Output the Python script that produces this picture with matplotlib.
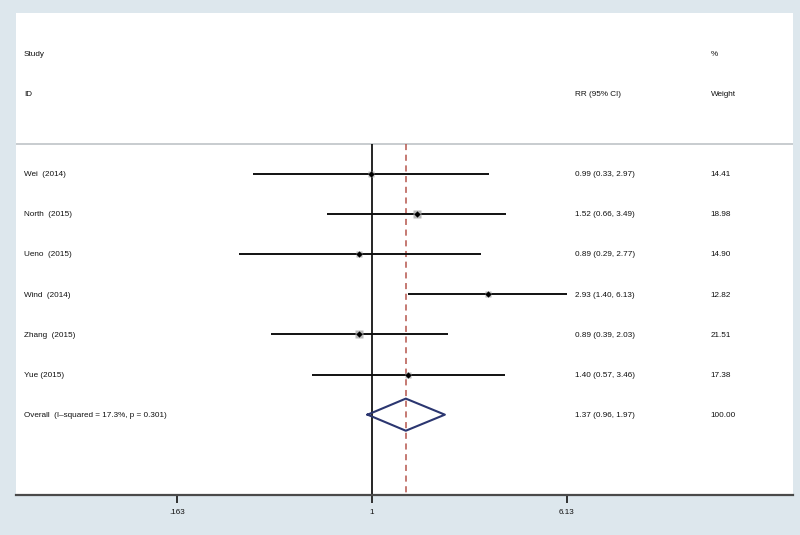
import matplotlib
matplotlib.use("Agg")

import matplotlib.pyplot as plt
from matplotlib import font_manager
import numpy as np


studies = ["Wei  (2014)", "North  (2015)", "Ueno  (2015)", "Wind  (2014)", "Zhang  (2015)", "Yue (2015)"]
rr = [0.99, 1.52, 0.89, 2.93, 0.89, 1.40]
ci_low = [0.33, 0.66, 0.29, 1.40, 0.39, 0.57]
ci_high = [2.97, 3.49, 2.77, 6.13, 2.03, 3.46]
weights = [14.41, 18.98, 14.90, 12.82, 21.51, 17.38]

overall_label = "Overall  (I\u2013squared = 17.3%, p = 0.301)"
overall_rr = 1.37
overall_low = 0.96
overall_high = 1.97
overall_weight = 100.00

tick_values = [0.163, 1, 6.13]
tick_labels = [".163", "1", "6.13"]

BG = "#dde7ed"
TXT = "#111111"

# prefer a narrow face if there is one
names = {f.name for f in font_manager.fontManager.ttflist}
if "Liberation Sans Narrow" in names:
    FONT = ["Liberation Sans Narrow", "DejaVu Sans"]
    FS = 6.8
else:
    FONT = ["Liberation Sans", "DejaVu Sans"]
    FS = 5.9

fig = plt.figure(figsize=(8, 5.35), dpi=100)
fig.patch.set_facecolor(BG)
ax = fig.add_axes([16 / 800, 40 / 535, 777 / 800, 482 / 535])
ax.set_facecolor("white")

ax.set_xscale("log")
ax.set_xlim(0.0365, 50.2)
ax.set_ylim(8, -4)

rows = np.arange(len(studies))
ov_row = len(studies)

# header separator and reference lines
ax.axhline(-0.75, color="#c4c8cc", lw=1.3)
ax.vlines(1, -0.75, 8, color="black", lw=1.2)
ax.vlines(overall_rr, -0.75, 8, color="#b5554c", lw=1.1, linestyles=(0, (4, 3)))

# study CIs, weight boxes and point estimates
ax.hlines(rows, ci_low, ci_high, color="#111111", lw=1.4)
for y, r, w in zip(rows, rr, weights):
    ax.plot(r, y, marker="s", ms=1.2 * np.sqrt(w), color="#a8a8a8", mec="none", alpha=0.8)
    ax.plot(r, y, marker="D", ms=3.2, color="black", mec="none")

# overall diamond
dx = [overall_low, overall_rr, overall_high, overall_rr, overall_low]
dy = [ov_row, ov_row - 0.4, ov_row, ov_row + 0.4, ov_row]
ax.plot(dx, dy, color="#2b3670", lw=1.5)

# text columns
tr = ax.get_yaxis_transform()
kw = dict(transform=tr, va="center_baseline", fontsize=FS, color=TXT, family=FONT)
ax.text(0.0103, -3, "Study", **kw)
ax.text(0.0103, -2, "ID", **kw)
ax.text(0.7194, -2, "RR (95% CI)", **kw)
ax.text(0.894, -3, "%", **kw)
ax.text(0.894, -2, "Weight", **kw)

for y, name, r, lo, hi, w in zip(rows, studies, rr, ci_low, ci_high, weights):
    ax.text(0.0103, y, name, **kw)
    ax.text(0.7194, y, f"{r:.2f} ({lo:.2f}, {hi:.2f})", **kw)
    ax.text(0.894, y, f"{w:.2f}", **kw)

ax.text(0.0103, ov_row, overall_label, **kw)
ax.text(0.7194, ov_row, f"{overall_rr:.2f} ({overall_low:.2f}, {overall_high:.2f})", **kw)
ax.text(0.894, ov_row, f"{overall_weight:.2f}", **kw)

# axis styling
for s in ["top", "left", "right"]:
    ax.spines[s].set_visible(False)
ax.spines["bottom"].set_color("#4a4a4a")
ax.spines["bottom"].set_linewidth(1.6)
ax.set_yticks([])
ax.set_xticks(tick_values)
ax.set_xticklabels(tick_labels, family=FONT, fontsize=FS, color=TXT)
ax.xaxis.set_minor_locator(matplotlib.ticker.NullLocator())
ax.tick_params(axis="x", direction="out", length=6, width=1.3, color="#222222", pad=4)

fig.savefig("out.png", dpi=100, facecolor=BG)
